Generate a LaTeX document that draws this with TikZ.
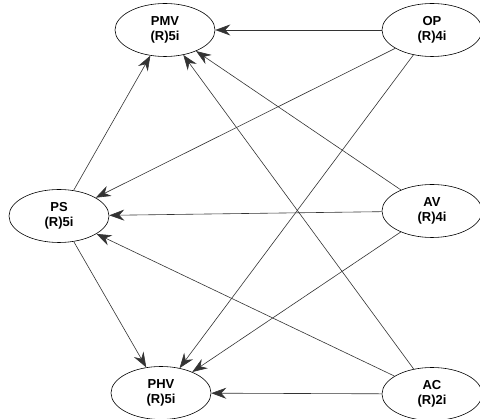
\documentclass[tikz,border=0pt]{standalone}
\usepackage{fontspec}
\setmainfont{Liberation Sans}
\usetikzlibrary{shapes.geometric, arrows.meta}

\begin{document}
\begin{tikzpicture}[x=1pt, y=-1pt,
  every node/.style={ellipse, draw, line width=0.6pt, minimum width=100pt, minimum height=53pt,
    inner sep=0pt, align=center, font=\bfseries\fontsize{13}{15}\selectfont},
  link/.style={-{Stealth[length=15pt, width=11pt, inset=5pt]}, draw=black!80, line width=0.6pt}]
\useasboundingbox (0,0) rectangle (480,419);
% Define the left and middle nodes
\node (PMV) at (165,30) {PMV\\(R)5i};
\node (PS) at (59,216) {PS\\(R)5i};
\node (PHV) at (161,393) {PHV\\(R)5i};

% Define the right column
\node (OP) at (432,30) {OP\\(R)4i};
\node (AV) at (432,211) {AV\\(R)4i};
\node (AC) at (432,394) {AC\\(R)2i};

% Draw the influences
\draw[link] (OP) -- (PMV);
\draw[link] (OP) -- (PS);
\draw[link] (OP) -- (PHV);
\draw[link] (AV) -- (PMV);
\draw[link] (AV) -- (PS);
\draw[link] (AV) -- (PHV);
\draw[link] (AC) -- (PMV);
\draw[link] (AC) -- (PS);
\draw[link] (AC) -- (PHV);
\draw[link] (PS) -- (PMV);
\draw[link] (PS) -- (PHV);
\end{tikzpicture}
\end{document}
